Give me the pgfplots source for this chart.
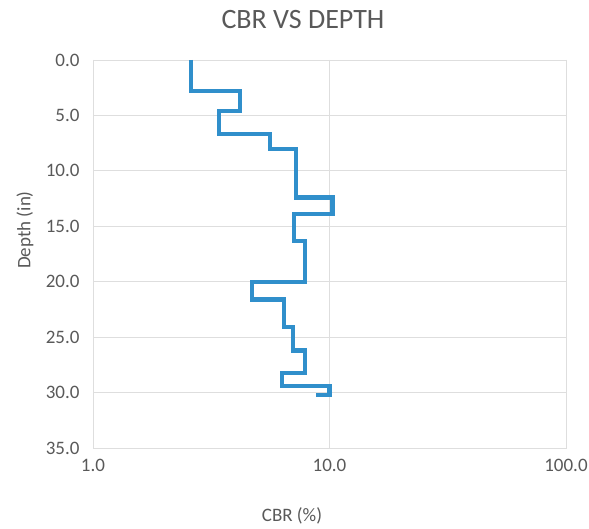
\documentclass[border=0pt]{standalone}
\usepackage{pgfplots}
\pgfplotsset{compat=1.18}
\usepackage{fontspec}
\setmainfont{Carlito}
\definecolor{cbrblue}{RGB}{48,143,203}
\definecolor{txtgray}{RGB}{89,89,89}
\definecolor{gridgray}{RGB}{222,222,222}
\begin{document}
\begin{tikzpicture}[x=1pt,y=1pt]
\useasboundingbox (0,0) rectangle (589,529);
\begin{axis}[
  at={(93pt,81pt)}, anchor=south west,
  width=473pt, height=388pt, scale only axis,
  xmode=log, xmin=1, xmax=100,
  ymin=0, ymax=35, y dir=reverse,
  xtick={1,10,100}, xticklabels={1.0,10.0,100.0},
  ytick={0,5,...,35},
  yticklabel={\pgfmathprintnumber[fixed,fixed zerofill,precision=1]{\tick}},
  /pgf/number format/assume math mode=true,
  grid=major, major grid style={draw=gridgray, line width=0.8pt},
  axis line style={draw=gridgray, line width=0.8pt},
  tick style={draw=none},
  ticklabel style={font=\fontsize{19}{19}\selectfont, text=txtgray},
  xticklabel style={yshift=-8pt},
  yticklabel style={xshift=-10pt},
]
\addplot[cbrblue, line width=4.2pt, line join=miter] coordinates {
(2.6,0) (2.6,2.8) (4.2,2.8) (4.2,4.6) (3.4,4.6) (3.4,6.7) (5.6,6.7) (5.6,8.0)
(7.2,8.0) (7.2,12.4) (10.3,12.4) (10.3,13.9) (7.1,13.9) (7.1,16.3) (7.9,16.3)
(7.9,20.0) (4.7,20.0) (4.7,21.6) (6.4,21.6) (6.4,24.1) (7.0,24.1) (7.0,26.2)
(7.9,26.2) (7.9,28.2) (6.3,28.2) (6.3,29.4) (10.0,29.4) (10.0,30.2) (8.8,30.2)
};
\end{axis}
\node[text=txtgray, font=\fontsize{28}{28}\selectfont] at (303,509) {CBR VS DEPTH};
\node[text=txtgray, font=\fontsize{19}{19}\selectfont, rotate=90] at (25,299) {Depth (in)};
\node[text=txtgray, font=\fontsize{19}{19}\selectfont] at (292,13) {CBR (\%)};
\end{tikzpicture}
\end{document}
